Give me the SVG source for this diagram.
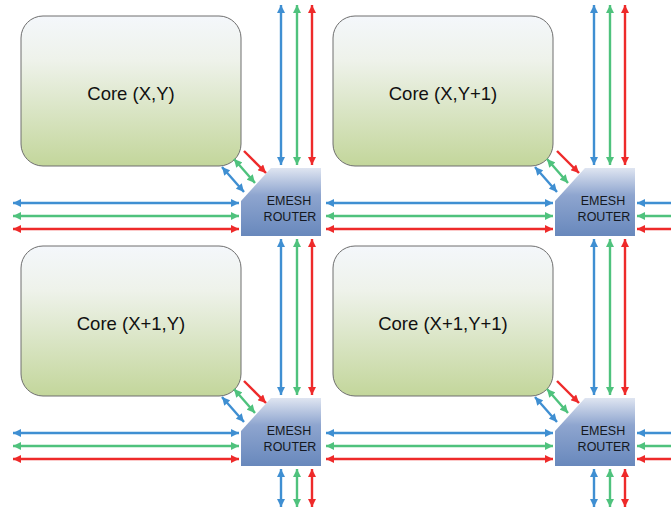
<svg xmlns="http://www.w3.org/2000/svg" width="671" height="509" viewBox="0 0 671 509">
  <defs>
    <linearGradient id="coreFill" x1="0" y1="0" x2="0" y2="1">
      <stop offset="0" stop-color="#f4f7fb"/>
      <stop offset="0.3" stop-color="#eef2ea"/>
      <stop offset="1" stop-color="#c3d69b"/>
    </linearGradient>
    <linearGradient id="routerFill" x1="0" y1="0" x2="0" y2="1">
      <stop offset="0" stop-color="#dfe5f1"/>
      <stop offset="0.4" stop-color="#8ea5cf"/>
      <stop offset="1" stop-color="#6888bc"/>
    </linearGradient>
    <marker id="ahBlue" viewBox="0 0 10 10" refX="10" refY="5" markerWidth="9" markerHeight="8" markerUnits="userSpaceOnUse" orient="auto-start-reverse">
      <path d="M0,0 L10,5 L0,10 Z" fill="#3f8fd2"/>
    </marker>
    <marker id="ahGreen" viewBox="0 0 10 10" refX="10" refY="5" markerWidth="9" markerHeight="8" markerUnits="userSpaceOnUse" orient="auto-start-reverse">
      <path d="M0,0 L10,5 L0,10 Z" fill="#4fc27d"/>
    </marker>
    <marker id="ahRed" viewBox="0 0 10 10" refX="10" refY="5" markerWidth="9" markerHeight="8" markerUnits="userSpaceOnUse" orient="auto-start-reverse">
      <path d="M0,0 L10,5 L0,10 Z" fill="#ee2a2a"/>
    </marker>
  </defs>
  <style>
    .core { fill: url(#coreFill); stroke: #6e6e6e; stroke-width: 1; }
    .router { fill: url(#routerFill); }
    .core-label { font-family: "Liberation Sans", Arial, sans-serif; font-size: 18.5px; fill: #111; text-anchor: middle; }
    .router-label { font-family: "Liberation Sans", Arial, sans-serif; font-size: 12.5px; fill: #141820; text-anchor: middle; }
    .b { stroke: #3f8fd2; stroke-width: 2.4; fill: none; }
    .g { stroke: #4fc27d; stroke-width: 2.4; fill: none; }
    .r { stroke: #ee2a2a; stroke-width: 2.4; fill: none; }
    .b.two { marker-start: url(#ahBlue); marker-end: url(#ahBlue); }
    .g.two { marker-start: url(#ahGreen); marker-end: url(#ahGreen); }
    .r.two { marker-start: url(#ahRed); marker-end: url(#ahRed); }
    .b.start { marker-start: url(#ahBlue); }
    .g.start { marker-start: url(#ahGreen); }
    .r.start { marker-start: url(#ahRed); }
    .r.end { marker-end: url(#ahRed); }
  </style>

  <rect width="671" height="509" fill="#ffffff"/>

  <!-- cores -->
  <g id="core-x-y">
    <rect class="core" x="21" y="16" width="220" height="150" rx="22"/>
    <text class="core-label" x="131" y="100">Core (X,Y)</text>
  </g>
  <g id="core-x-y1">
    <rect class="core" x="333" y="16" width="220" height="150" rx="22"/>
    <text class="core-label" x="443" y="100">Core (X,Y+1)</text>
  </g>
  <g id="core-x1-y">
    <rect class="core" x="21" y="246" width="220" height="150" rx="22"/>
    <text class="core-label" x="131" y="330">Core (X+1,Y)</text>
  </g>
  <g id="core-x1-y1">
    <rect class="core" x="333" y="246" width="220" height="150" rx="22"/>
    <text class="core-label" x="443" y="330">Core (X+1,Y+1)</text>
  </g>

  <!-- routers -->
  <g id="router-x-y">
    <path class="router" d="M241,201 L271,168 L321,168 L321,236 L241,236 Z"/>
    <text class="router-label" x="289" y="205">EMESH</text>
    <text class="router-label" x="290" y="221">ROUTER</text>
  </g>
  <g id="router-x-y1">
    <path class="router" d="M555,201 L585,168 L635,168 L635,236 L555,236 Z"/>
    <text class="router-label" x="603" y="205">EMESH</text>
    <text class="router-label" x="604" y="221">ROUTER</text>
  </g>
  <g id="router-x1-y">
    <path class="router" d="M241,431 L271,398 L321,398 L321,466 L241,466 Z"/>
    <text class="router-label" x="289" y="435">EMESH</text>
    <text class="router-label" x="290" y="451">ROUTER</text>
  </g>
  <g id="router-x1-y1">
    <path class="router" d="M555,431 L585,398 L635,398 L635,466 L555,466 Z"/>
    <text class="router-label" x="603" y="435">EMESH</text>
    <text class="router-label" x="604" y="451">ROUTER</text>
  </g>

  <!-- links -->
  <g id="connectors">
    <!-- vertical links, top edge -->
    <line class="b two" x1="281" y1="5" x2="281" y2="165"/>
    <line class="g two" x1="297" y1="5" x2="297" y2="165"/>
    <line class="r two" x1="312" y1="5" x2="312" y2="165"/>
    <line class="b two" x1="594" y1="5" x2="594" y2="165"/>
    <line class="g two" x1="610" y1="5" x2="610" y2="165"/>
    <line class="r two" x1="625" y1="5" x2="625" y2="165"/>
    <!-- vertical links between router rows -->
    <line class="b two" x1="281" y1="239" x2="281" y2="395"/>
    <line class="g two" x1="297" y1="239" x2="297" y2="395"/>
    <line class="r two" x1="312" y1="239" x2="312" y2="395"/>
    <line class="b two" x1="594" y1="239" x2="594" y2="395"/>
    <line class="g two" x1="610" y1="239" x2="610" y2="395"/>
    <line class="r two" x1="625" y1="239" x2="625" y2="395"/>
    <!-- vertical links, bottom edge -->
    <line class="b two" x1="281" y1="469" x2="281" y2="507"/>
    <line class="g two" x1="297" y1="469" x2="297" y2="507"/>
    <line class="r two" x1="312" y1="469" x2="312" y2="507"/>
    <line class="b two" x1="594" y1="469" x2="594" y2="507"/>
    <line class="g two" x1="610" y1="469" x2="610" y2="507"/>
    <line class="r two" x1="625" y1="469" x2="625" y2="507"/>

    <!-- horizontal links, row 1 -->
    <line class="b two" x1="13" y1="203" x2="239" y2="203"/>
    <line class="g two" x1="13" y1="216" x2="239" y2="216"/>
    <line class="r two" x1="13" y1="229" x2="239" y2="229"/>
    <line class="b two" x1="326" y1="203" x2="553" y2="203"/>
    <line class="g two" x1="326" y1="216" x2="553" y2="216"/>
    <line class="r two" x1="326" y1="229" x2="553" y2="229"/>
    <line class="b start" x1="637" y1="203" x2="675" y2="203"/>
    <line class="g start" x1="637" y1="216" x2="675" y2="216"/>
    <line class="r start" x1="637" y1="229" x2="675" y2="229"/>
    <!-- horizontal links, row 2 -->
    <line class="b two" x1="13" y1="433" x2="239" y2="433"/>
    <line class="g two" x1="13" y1="446" x2="239" y2="446"/>
    <line class="r two" x1="13" y1="459" x2="239" y2="459"/>
    <line class="b two" x1="326" y1="433" x2="553" y2="433"/>
    <line class="g two" x1="326" y1="446" x2="553" y2="446"/>
    <line class="r two" x1="326" y1="459" x2="553" y2="459"/>
    <line class="b start" x1="637" y1="433" x2="675" y2="433"/>
    <line class="g start" x1="637" y1="446" x2="675" y2="446"/>
    <line class="r start" x1="637" y1="459" x2="675" y2="459"/>

    <!-- core to router links -->
    <line class="b two" x1="222" y1="167" x2="244" y2="192"/>
    <line class="g two" x1="234" y1="159" x2="255" y2="183"/>
    <line class="r end" x1="244" y1="151" x2="266" y2="173"/>
    <line class="b two" x1="535" y1="167" x2="557" y2="192"/>
    <line class="g two" x1="547" y1="159" x2="568" y2="183"/>
    <line class="r end" x1="557" y1="151" x2="579" y2="173"/>
    <line class="b two" x1="222" y1="397" x2="244" y2="422"/>
    <line class="g two" x1="234" y1="389" x2="255" y2="413"/>
    <line class="r end" x1="244" y1="381" x2="266" y2="403"/>
    <line class="b two" x1="535" y1="397" x2="557" y2="422"/>
    <line class="g two" x1="547" y1="389" x2="568" y2="413"/>
    <line class="r end" x1="557" y1="381" x2="579" y2="403"/>
  </g>
</svg>
